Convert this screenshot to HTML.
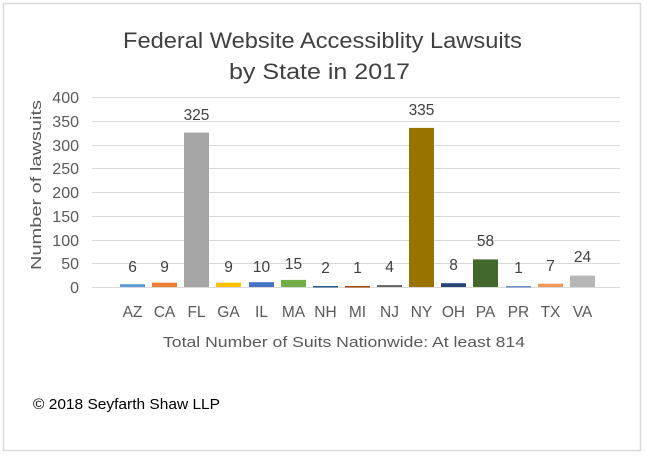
<!DOCTYPE html>
<html><head><meta charset="utf-8"><style>
html,body{margin:0;padding:0;background:#fff;}
svg{display:block;font-family:"Liberation Sans",sans-serif;}
</style></head><body>
<svg width="647" height="461" xmlns="http://www.w3.org/2000/svg">
<rect x="3.5" y="3.5" width="637" height="447" fill="#fff" stroke="#d9d9d9" stroke-width="1.5"/>
<text x="123" y="48" font-size="22" fill="#404040" textLength="399" lengthAdjust="spacingAndGlyphs">Federal Website Accessiblity Lawsuits</text>
<text x="229" y="79" font-size="22" fill="#404040" textLength="181" lengthAdjust="spacingAndGlyphs">by State in 2017</text>
<g stroke="#d9d9d9" stroke-width="1">
<line x1="92" x2="620" y1="97.5" y2="97.5"/><line x1="92" x2="620" y1="121.5" y2="121.5"/>
<line x1="92" x2="620" y1="145.5" y2="145.5"/><line x1="92" x2="620" y1="168.5" y2="168.5"/>
<line x1="92" x2="620" y1="192.5" y2="192.5"/><line x1="92" x2="620" y1="216.5" y2="216.5"/>
<line x1="92" x2="620" y1="240.5" y2="240.5"/><line x1="92" x2="620" y1="263.5" y2="263.5"/>
<line x1="92" x2="620" y1="287.5" y2="287.5"/>
</g>
<g font-size="16" fill="#595959" text-anchor="end">
<text x="79" y="103">400</text><text x="79" y="127">350</text><text x="79" y="151">300</text>
<text x="79" y="174">250</text><text x="79" y="198">200</text><text x="79" y="222">150</text>
<text x="79" y="246">100</text><text x="79" y="269">50</text><text x="79" y="293">0</text>
</g>
<text transform="translate(41,185) rotate(-90)" font-size="15" fill="#595959" text-anchor="middle" textLength="170" lengthAdjust="spacingAndGlyphs">Number of lawsuits</text>
<g>
<rect x="120" y="284.2" width="25" height="2.8" fill="#5b9bd5"/>
<rect x="152" y="282.7" width="25" height="4.3" fill="#ed7d31"/>
<rect x="184" y="132.6" width="25" height="154.4" fill="#a5a5a5"/>
<rect x="216" y="282.7" width="25" height="4.3" fill="#ffc000"/>
<rect x="249" y="282.2" width="25" height="4.8" fill="#4472c4"/>
<rect x="281" y="279.9" width="25" height="7.1" fill="#70ad47"/>
<rect x="313" y="286" width="25" height="1.5" fill="#255e91"/>
<rect x="345" y="286" width="25" height="1.5" fill="#9e480e"/>
<rect x="377" y="285.1" width="25" height="1.9" fill="#636363"/>
<rect x="409" y="127.9" width="25" height="159.1" fill="#997300"/>
<rect x="441" y="283.2" width="25" height="3.8" fill="#264478"/>
<rect x="473" y="259.4" width="25" height="27.6" fill="#43682b"/>
<rect x="506" y="286" width="25" height="1.5" fill="#698ed0"/>
<rect x="538" y="283.7" width="25" height="3.3" fill="#f1975a"/>
<rect x="570" y="275.6" width="25" height="11.4" fill="#b7b7b7"/>
</g>
<g font-size="15.5" fill="#404040" text-anchor="middle">
<text x="132.5" y="272">6</text><text x="164.5" y="272">9</text><text x="196.5" y="120">325</text>
<text x="228.5" y="272">9</text><text x="261.5" y="272">10</text><text x="293.5" y="269">15</text>
<text x="325.5" y="273">2</text><text x="357.5" y="273">1</text><text x="389.5" y="272">4</text>
<text x="421.5" y="115">335</text><text x="453.5" y="270">8</text><text x="485.5" y="246">58</text>
<text x="518.5" y="273">1</text><text x="550.5" y="271">7</text><text x="582.5" y="262">24</text>
</g>
<g font-size="15.5" fill="#595959" text-anchor="middle">
<text x="132.5" y="317">AZ</text><text x="164.5" y="317">CA</text><text x="196.5" y="317">FL</text>
<text x="228.5" y="317">GA</text><text x="261.5" y="317">IL</text><text x="293.5" y="317">MA</text>
<text x="325.5" y="317">NH</text><text x="357.5" y="317">MI</text><text x="389.5" y="317">NJ</text>
<text x="421.5" y="317">NY</text><text x="453.5" y="317">OH</text><text x="485.5" y="317">PA</text>
<text x="518.5" y="317">PR</text><text x="550.5" y="317">TX</text><text x="582.5" y="317">VA</text>
</g>
<text x="163" y="347" font-size="15" fill="#595959" textLength="362" lengthAdjust="spacingAndGlyphs">Total Number  of Suits Nationwide:  At  least 814</text>
<text x="33" y="409" font-size="15" fill="#000" textLength="187" lengthAdjust="spacingAndGlyphs">© 2018 Seyfarth Shaw LLP</text>
</svg>
</body></html>
